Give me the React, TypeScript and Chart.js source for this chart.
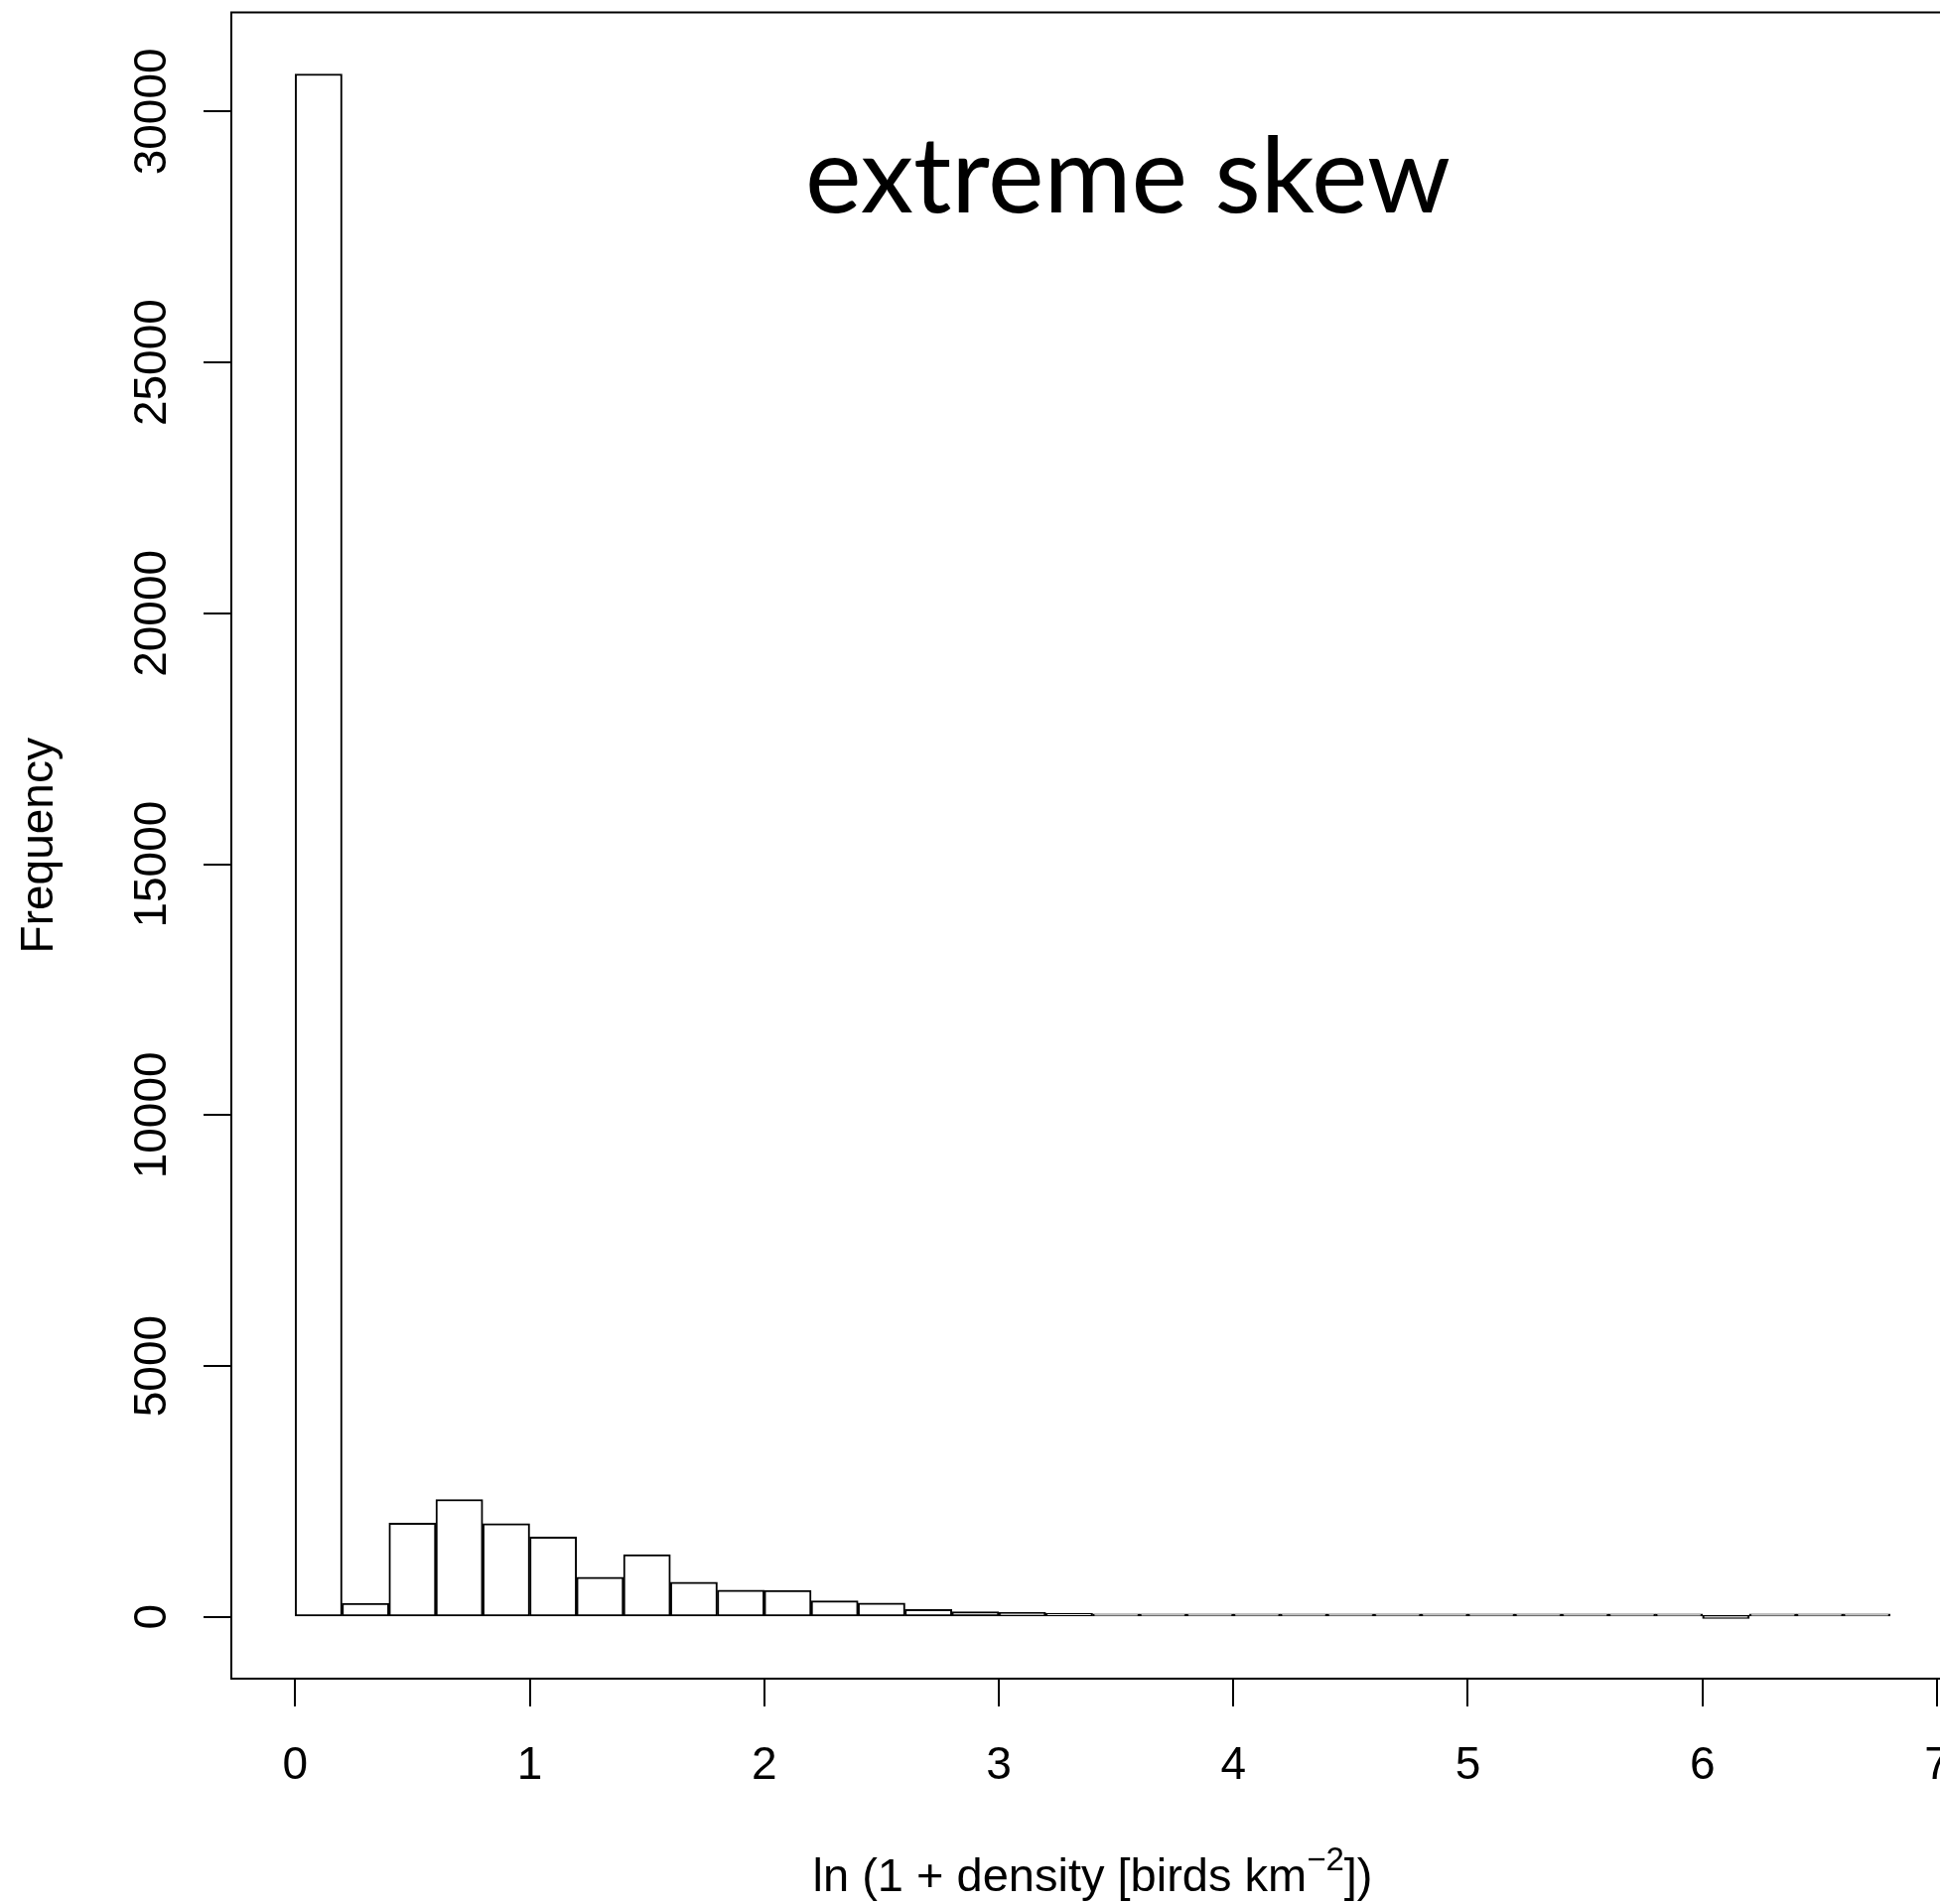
import { useEffect, useRef } from "react";
import { Chart, registerables } from "chart.js";

Chart.register(...registerables);

// ---- data ----
const binStarts = [
  0.0, 0.2, 0.4, 0.6, 0.8, 1.0, 1.2, 1.4, 1.6, 1.8, 2.0, 2.2, 2.4, 2.6, 2.8, 3.0, 3.2,
  3.4, 3.6, 3.8, 4.0, 4.2, 4.4, 4.6, 4.8, 5.0, 5.2, 5.4, 5.6, 5.8, 6.0, 6.2, 6.4, 6.6,
];
const binWidth = 0.2;
const counts = [
  30750, 270, 1870, 2340, 1860, 1590, 790, 1240, 690, 535, 530, 320, 275, 150, 105, 90, 75,
  60, 40, 32, 22, 16, 12, 9, 7, 5, 4, 3, 3, 2, 0, 1, 1, 1,
];
const xTicks = [0, 1, 2, 3, 4, 5, 6, 7];
const yTicks = [0, 5000, 10000, 15000, 20000, 25000, 30000];

const titleText = "extreme skew";
const xTitleMain = "ln (1 + density [birds km";
const xTitleSup = "\u22122";
const xTitleEnd = "])";
const yTitle = "Frequency";

// ---- layout ----
const W = 1975;
const H = 1918;
const AREA_LEFT = 233;
const AREA_TOP = 12.5;
const AREA_BOTTOM = 1691;
const AREA_RIGHT = 1968;
const X_MIN = -0.272;
const X_MAX = 7.072;
const Y_MIN = -1230;
const Y_MAX = 31976;
const TICK_FONT = "46px 'Liberation Sans', Helvetica, Arial, sans-serif";
const YTITLE_FONT = "46px 'Liberation Sans', Helvetica, Arial, sans-serif";
const XTITLE_FONT = "47px 'Liberation Sans', Helvetica, Arial, sans-serif";
const SUP_FONT = "33px 'Liberation Sans', Helvetica, Arial, sans-serif";
const TITLE_FONT = "107px Lato, 'Open Sans', sans-serif";

const rPlotPlugin = {
  id: "rPlot",
  afterDraw(chart: any) {
    const { ctx, chartArea, scales } = chart;
    const xs = scales.x;
    const ys = scales.y;
    ctx.save();
    ctx.strokeStyle = "#000";
    ctx.fillStyle = "#000";
    ctx.lineWidth = 2;
    // box around plot region
    ctx.strokeRect(chartArea.left, chartArea.top, chartArea.right - chartArea.left, chartArea.bottom - chartArea.top);

    // x tick labels
    ctx.font = TICK_FONT;
    ctx.textAlign = "center";
    ctx.textBaseline = "alphabetic";
    xs.ticks.forEach((t: any) => {
      ctx.fillText(String(t.value), xs.getPixelForValue(t.value), 1792);
    });

    // y tick labels (rotated)
    ys.ticks.forEach((t: any) => {
      ctx.save();
      ctx.translate(167, ys.getPixelForValue(t.value));
      ctx.rotate(-Math.PI / 2);
      ctx.fillText(String(t.value), 0, 0);
      ctx.restore();
    });

    // y title
    ctx.font = YTITLE_FONT;
    ctx.save();
    ctx.translate(53, (chartArea.top + chartArea.bottom) / 2);
    ctx.rotate(-Math.PI / 2);
    ctx.fillText(yTitle, 0, 0);
    ctx.restore();

    // x title with superscript
    ctx.textAlign = "left";
    ctx.font = XTITLE_FONT;
    const w1 = ctx.measureText(xTitleMain).width;
    const w3 = ctx.measureText(xTitleEnd).width;
    ctx.font = SUP_FONT;
    const w2 = ctx.measureText(xTitleSup).width;
    const cx = (chartArea.left + chartArea.right) / 2;
    let x0 = cx - (w1 + w2 + w3) / 2;
    const base = 1905;
    ctx.font = XTITLE_FONT;
    ctx.fillText(xTitleMain, x0, base);
    x0 += w1;
    ctx.font = SUP_FONT;
    ctx.fillText(xTitleSup, x0, base - 21);
    x0 += w2;
    ctx.font = XTITLE_FONT;
    ctx.fillText(xTitleEnd, x0, base);

    // main title text inside plot
    ctx.font = TITLE_FONT;
    ctx.textAlign = "center";
    ctx.fillText(titleText, 1136, 214);
    ctx.restore();
  },
};

export default function App() {
  const canvasRef = useRef<HTMLCanvasElement | null>(null);

  useEffect(() => {
    const canvas = canvasRef.current;
    if (!canvas) return;
    const data = binStarts.map((s, i) => ({ x: s + binWidth / 2, y: counts[i] }));
    const chart = new Chart(canvas, {
      type: "bar",
      data: {
        datasets: [
          {
            data: data as any,
            backgroundColor: "#ffffff",
            borderColor: "#000000",
            borderWidth: 2,
            borderSkipped: false,
            barPercentage: 1,
            categoryPercentage: 1,
            minBarLength: 3,
          },
        ],
      },
      options: {
        responsive: false,
        animation: false,
        events: [],
        layout: { padding: { left: 0, top: AREA_TOP, right: W - AREA_RIGHT, bottom: 0 } },
        plugins: { legend: { display: false }, tooltip: { enabled: false }, title: { display: false } },
        scales: {
          x: {
            type: "linear",
            min: X_MIN,
            max: X_MAX,
            offset: false,
            afterBuildTicks: (s: any) => {
              s.ticks = xTicks.map((v) => ({ value: v }));
            },
            afterFit: (s: any) => {
              s.height = H - AREA_BOTTOM;
            },
            ticks: { display: false },
            grid: {
              display: true,
              drawOnChartArea: false,
              drawTicks: true,
              tickLength: 28,
              color: "#000",
              lineWidth: 2,
              offset: false,
            },
            border: { display: false },
          },
          y: {
            type: "linear",
            min: Y_MIN,
            max: Y_MAX,
            afterBuildTicks: (s: any) => {
              s.ticks = yTicks.map((v) => ({ value: v }));
            },
            afterFit: (s: any) => {
              s.width = AREA_LEFT;
            },
            ticks: { display: false },
            grid: {
              display: true,
              drawOnChartArea: false,
              drawTicks: true,
              tickLength: 28,
              color: "#000",
              lineWidth: 2,
            },
            border: { display: false },
          },
        },
      },
      plugins: [rPlotPlugin],
    });
    return () => chart.destroy();
  }, []);

  return (
    <div style={{ position: "absolute", left: 0, top: 0, width: 1954, height: 1918, overflow: "hidden", background: "#fff" }}>
      <canvas ref={canvasRef} width={W} height={H} style={{ display: "block", width: W, height: H }} />
    </div>
  );
}
